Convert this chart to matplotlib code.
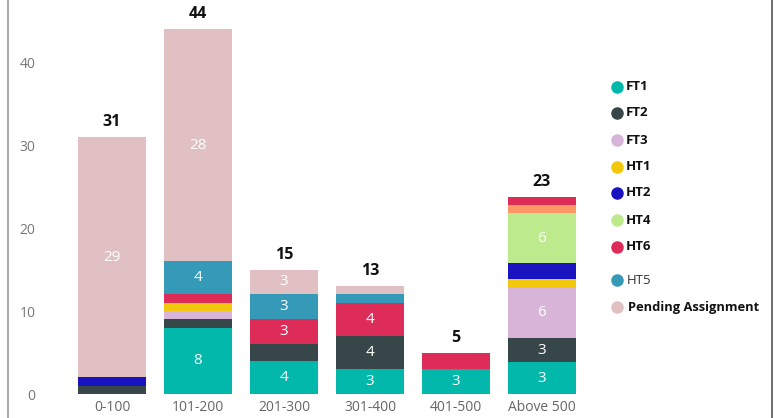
import numpy as np
import matplotlib
matplotlib.use("Agg")
import matplotlib.pyplot as plt
from matplotlib.lines import Line2D

plt.rcParams['font.family'] = ['Open Sans', 'DejaVu Sans']

categories = ["0-100", "101-200", "201-300", "301-400", "401-500", "Above 500"]
series_names = ["FT1", "FT2", "FT3", "HT1", "HT2", "HT4", "HT3", "HT6", "HT5", "Pending Assignment"]
FT1 = [0, 8, 4, 3, 3, 3.8]
FT2 = [1, 1, 2, 4, 0, 3]
FT3 = [0, 1, 0, 0, 0, 6]
HT1 = [0, 1, 0, 0, 0, 1]
HT2 = [1, 0, 0, 0, 0, 2]
HT4 = [0, 0, 0, 0, 0, 6]
HT3 = [0, 0, 0, 0, 0, 1]
HT6 = [0, 1, 3, 4, 2, 1]
HT5 = [0, 4, 3, 1, 0, 0]
Pending = [29, 28, 3, 1, 0, 0]
series_values = [FT1, FT2, FT3, HT1, HT2, HT4, HT3, HT6, HT5, Pending]
colors = ["#01B8AA", "#374649", "#D8B5D8", "#F2C80F", "#1A13C0", "#BDEA8D",
          "#FE9666", "#DD2C58", "#3599B8", "#E0C0C3"]
legend_names = ["FT1", "FT2", "FT3", "HT1", "HT2", "HT4", "HT6", "HT5", "Pending Assignment"]
yticks = [0, 10, 20, 30, 40]

W, H = 775, 418
fig = plt.figure(figsize=(W / 100, H / 100), dpi=100)
ax = fig.add_axes([69 / W, 24 / H, 516 / W, 390 / H])

x = np.arange(len(categories))
bottom = np.zeros(len(categories))
for name, vals, c in zip(series_names, series_values, colors):
    vals = np.array(vals, dtype=float)
    ax.bar(x, vals, bottom=bottom, width=0.78, color=c, linewidth=0)
    for xi, v, b in zip(x, vals, bottom):
        if v >= 3:
            ax.text(xi, b + v / 2, f"{int(np.floor(v))}", ha="center", va="center",
                    color="white", fontsize=11)
    bottom += vals

for xi, t in zip(x, bottom):
    ax.annotate(f"{int(np.floor(t))}", (xi, t), xytext=(0, 5), textcoords="offset points",
                ha="center", va="bottom", fontsize=11.5, fontweight="bold", color="#111111")

ax.set_xlim(-0.5, 5.5)
ax.set_ylim(0, 47)
ax.set_xticks(x)
ax.set_xticklabels(categories, fontsize=10, color="#666666")
ax.set_yticks(yticks)
ax.set_yticklabels([str(v) for v in yticks], fontsize=10, color="#777777")
ax.tick_params(axis="both", length=0)
ax.tick_params(axis="y", pad=24)
ax.tick_params(axis="x", pad=4)
for s in ax.spines.values():
    s.set_visible(False)

# frame lines
fig.add_artist(Line2D([8 / W, 8 / W], [0, 1], color="#999999", linewidth=1.2, transform=fig.transFigure))
fig.add_artist(Line2D([772 / W, 772 / W], [0, 1], color="#555555", linewidth=1.2, transform=fig.transFigure))

# legend (manual)
leg_y = [87, 113, 140, 167, 193, 220, 247, 280, 307]
leg_colors = ["#01B8AA", "#374649", "#D8B5D8", "#F2C80F", "#1A13C0", "#BDEA8D", "#DD2C58", "#3599B8", "#E0C0C3"]
for name, yy, c in zip(legend_names, leg_y, leg_colors):
    fy = 1 - yy / H
    fig.add_artist(Line2D([617 / W], [fy], marker="o", markersize=8, color=c,
                          linestyle="none", transform=fig.transFigure))
    if name == "HT5":
        fig.text(627 / W, fy, name, ha="left", va="center", fontsize=9.5, color="#333333")
    elif name == "Pending Assignment":
        fig.text(628 / W, fy, name, ha="left", va="center", fontsize=9.3, fontweight="bold",
                 color="#111111")
    else:
        fig.text(626 / W, fy, name, ha="left", va="center", fontsize=9.5, fontweight="bold",
                 color="#111111")

fig.savefig("out.png", dpi=100)
